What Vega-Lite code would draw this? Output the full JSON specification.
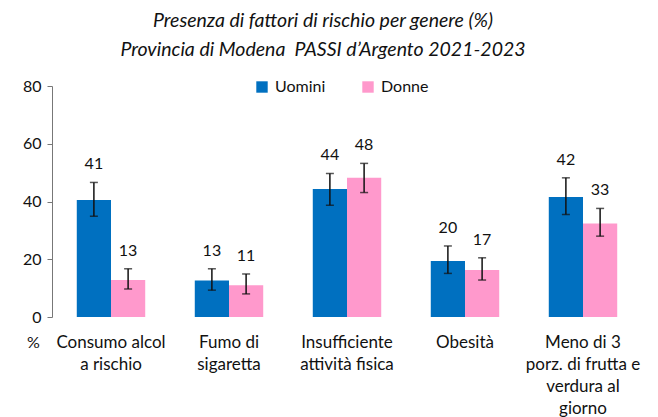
{
  "$schema": "https://vega.github.io/schema/vega-lite/v6.json",
  "width": 590,
  "height": 231,
  "autosize": {"type": "none"},
  "padding": {"left": 52, "top": 86, "right": 16, "bottom": 100},
  "background": "white",
  "config": {
    "font": "Lato",
    "view": {"stroke": null},
    "title": {"font": "Lato", "fontStyle": "italic", "fontWeight": "normal", "fontSize": 19.5, "color": "#111"}
  },
  "title": {
    "text": ["Presenza di fattori di rischio per genere (%)", "Provincia di Modena\u00a0 PASSI d’Argento 2021-2023"],
    "anchor": "middle",
    "frame": "group",
    "dx": -24,
    "offset": 18,
    "lineHeight": 29
  },
  "data": {
    "values": [
      {"cat": "Consumo alcol|a rischio", "genere": "Uomini", "v": 40.5, "lab": "41", "lo": 34.9, "hi": 46.6},
      {"cat": "Consumo alcol|a rischio", "genere": "Donne", "v": 12.8, "lab": "13", "lo": 9.7, "hi": 16.7},
      {"cat": "Fumo di|sigaretta", "genere": "Uomini", "v": 12.6, "lab": "13", "lo": 9.3, "hi": 16.7},
      {"cat": "Fumo di|sigaretta", "genere": "Donne", "v": 11.0, "lab": "11", "lo": 8.0, "hi": 14.9},
      {"cat": "Insufficiente|attività fisica", "genere": "Uomini", "v": 44.3, "lab": "44", "lo": 38.7, "hi": 49.7},
      {"cat": "Insufficiente|attività fisica", "genere": "Donne", "v": 48.2, "lab": "48", "lo": 43.1, "hi": 53.2},
      {"cat": "Obesità", "genere": "Uomini", "v": 19.4, "lab": "20", "lo": 15.1, "hi": 24.6},
      {"cat": "Obesità", "genere": "Donne", "v": 16.3, "lab": "17", "lo": 12.8, "hi": 20.5},
      {"cat": "Meno di 3|porz. di frutta e|verdura al|giorno", "genere": "Uomini", "v": 41.6, "lab": "42", "lo": 35.5, "hi": 48.2},
      {"cat": "Meno di 3|porz. di frutta e|verdura al|giorno", "genere": "Donne", "v": 32.4, "lab": "33", "lo": 28.0, "hi": 37.6}
    ]
  },
  "encoding": {
    "x": {
      "field": "cat", "type": "nominal", "sort": null,
      "scale": {"paddingInner": 0.42, "paddingOuter": 0.21},
      "axis": {
        "title": null, "domain": false, "ticks": false, "labelAngle": 0,
        "labelExpr": "split(datum.label, '|')",
        "labelFontSize": 17, "labelColor": "#111", "labelPadding": 17, "labelLineHeight": 22,
        "labelBaseline": "top"
      }
    },
    "xOffset": {"field": "genere", "type": "nominal", "sort": ["Uomini", "Donne"], "scale": {"paddingInner": 0, "paddingOuter": 0}}
  },
  "layer": [
    {
      "mark": {"type": "bar"},
      "encoding": {
        "y": {
          "field": "v", "type": "quantitative",
          "scale": {"domain": [0, 80]},
          "axis": {
            "values": [0, 20, 40, 60, 80], "grid": false, "tickSize": 5,
            "domainColor": "#777", "tickColor": "#777",
            "labelFontSize": 16, "labelColor": "#111", "labelPadding": 6,
            "title": "%", "titleAngle": 0, "titleX": -19, "titleY": 256,
            "titleFontSize": 16, "titleFontWeight": "normal", "titleColor": "#111",
            "titleBaseline": "middle", "titleAlign": "center"
          }
        },
        "color": {
          "field": "genere", "type": "nominal",
          "scale": {"domain": ["Uomini", "Donne"], "range": ["#0070C0", "#FF99CC"]},
          "legend": {
            "title": null, "orient": "none", "direction": "horizontal",
            "legendX": 202, "legendY": -7, "symbolType": "square", "symbolSize": 130,
            "symbolStrokeWidth": 0, "labelFontSize": 16, "labelColor": "#111",
            "columnPadding": 34, "labelOffset": 5, "padding": 0
          }
        }
      }
    },
    {
      "mark": {"type": "rule", "color": "#111", "strokeWidth": 1.5},
      "encoding": {
        "y": {"field": "lo", "type": "quantitative"},
        "y2": {"field": "hi"}
      }
    },
    {
      "mark": {"type": "tick", "color": "#111", "thickness": 1.5, "size": 8},
      "encoding": {"y": {"field": "lo", "type": "quantitative"}}
    },
    {
      "mark": {"type": "tick", "color": "#111", "thickness": 1.5, "size": 8},
      "encoding": {"y": {"field": "hi", "type": "quantitative"}}
    },
    {
      "mark": {"type": "text", "fontSize": 16, "color": "#111", "baseline": "bottom", "dy": -10},
      "encoding": {
        "y": {"field": "hi", "type": "quantitative"},
        "text": {"field": "lab"}
      }
    }
  ]
}
